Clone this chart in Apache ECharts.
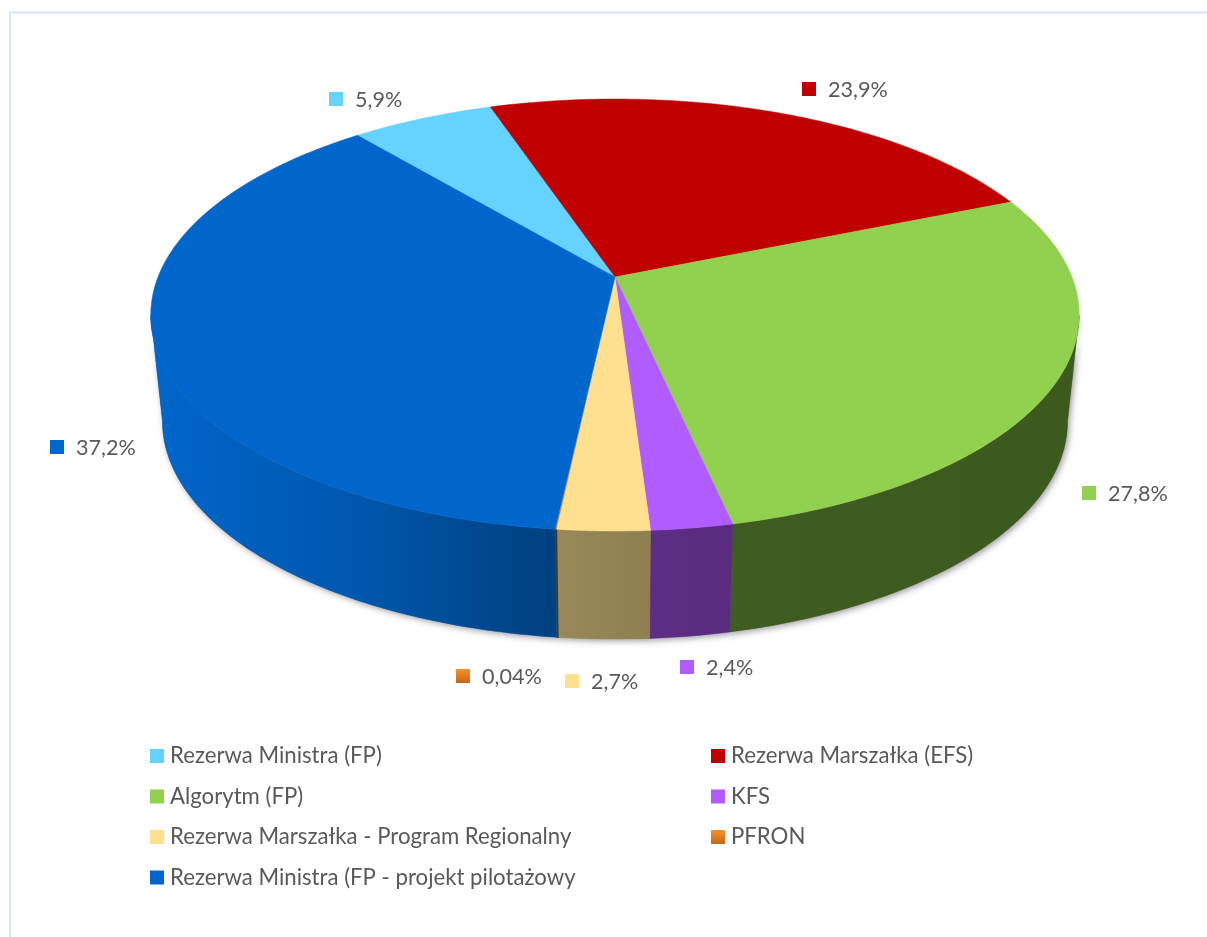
<!DOCTYPE html>
<html><head><meta charset="utf-8">
<style>html,body{margin:0;padding:0;background:#fff}#c{width:1207px;height:937px}</style>
<script src="https://cdn.jsdelivr.net/npm/echarts@6/dist/echarts.min.js"></script>
</head><body><div id="c"></div>
<script>
const categories = ['Rezerwa Ministra (FP)','Rezerwa Marszałka (EFS)','Algorytm (FP)','KFS','Rezerwa Marszałka - Program Regionalny','PFRON','Rezerwa Ministra (FP - projekt pilotażowy'];
const values = [5.9, 23.9, 27.8, 2.4, 2.7, 0.04, 37.2];
const valueLabels = ['5,9%','23,9%','27,8%','2,4%','2,7%','0,04%','37,2%'];

const topColors = ['#66d3ff','#c00000','#92d050','#b05cff','#ffe08f','#f28a25','#0066cc'];
const wallStops = [
  ['#3d7f99','#3d7f99'], ['#730000','#730000'], ['#3f5d20','#3d5a1e'],
  ['#5c2d84','#5a2c80'], ['#998858','#8f7e50'], ['#3d3a28','#3d3a28'],
  ['#0066cb','#0057ae','#00407e']
];
const legendLeft = [0,2,4,6], legendRight = [1,3,5];
// label anchors: marker left/top in page pixels, text follows
const labelAnchors = [[329,92],[802,82],[1082,486],[680,660],[565,674],[456,669],[50,440]];

const TOP = {cx:615, cy:277, a:457, b:209.3, p:0.176};
const BOTTOM = {cx:615, cy:383, a:445.5, b:211, p:0.176};
const START_DEG = -39.8;
const WALL_FROM = Math.acos(-TOP.p)*180/Math.PI, WALL_TO = 360-WALL_FROM;
const total = values.reduce((s,v)=>s+v,0);
function startOf(i){ let s=0; for(let k=0;k<i;k++) s+=values[k]; return START_DEG+s/total*360; }
function proj(g,deg){
  const t=deg*Math.PI/180, u=Math.sin(t), v=-Math.cos(t), d=1-g.p*v;
  return [g.cx+g.a*u/d, g.cy+g.b*v/d];
}
function arc(g,d0,d1){
  const n=Math.max(1,Math.ceil(d1-d0)), out=[];
  for(let i=0;i<=n;i++) out.push(proj(g,d0+(d1-d0)*i/n));
  return out;
}
const orangeGrad={type:'linear',x:0,y:0,x2:0,y2:1,colorStops:[{offset:0,color:'#ff9029'},{offset:1,color:'#c4661a'}]};
function render(i){
  return function(params,api){
    const v=api.value(0), d0=startOf(i), d1=d0+v/total*360;
    const w0=Math.max(d0,WALL_FROM), w1=Math.min(d1,WALL_TO);
    const children=[];
    if(w1>w0){
      const wall=arc(TOP,w0,w1).concat(arc(BOTTOM,w0,w1).reverse());
      const xs=wall.map(p=>p[0]);
      const stops=wallStops[i].map((c,k,a)=>({offset:k/(a.length-1),color:c}));
      const fill={type:'linear',x:Math.min(...xs),y:0,x2:Math.max(...xs),y2:0,global:true,colorStops:stops};
      children.push(
        {type:'polygon',z2:0,shape:{points:wall},style:{fill:'#777',shadowColor:'rgba(60,60,70,0.5)',shadowBlur:6,shadowOffsetX:2,shadowOffsetY:2}},
        {type:'polygon',z2:1,shape:{points:wall},style:{fill:fill,stroke:wallStops[i][0],lineWidth:i===5?1.2:0.4}}
      );
    }
    const [mx,my]=labelAnchors[i];
    const mfill=i===5?orangeGrad:topColors[i];
    children.push(
      {type:'polygon',z2:5,shape:{points:arc(TOP,d0,d1).concat([[TOP.cx,TOP.cy]])},style:i===5?{fill:topColors[i]}:{fill:topColors[i],stroke:topColors[i],lineWidth:0.5}},
      {type:'rect',z2:10,shape:{x:mx,y:my,width:14,height:14},style:{fill:mfill}},
      {type:'text',z2:10,x:mx+26,y:my+8,style:{text:valueLabels[i],fill:'#595959',font:'400 21.6px Lato',textAlign:'left',textVerticalAlign:'middle'}}
    );
    return {type:'group',silent:true,children:children};
  };
}
const legendText={color:'#595959',fontSize:22.2,fontFamily:'Lato',padding:[0,0,0,1]};
const legendData=idx=>idx.map(i=>({name:categories[i],icon:'rect',itemStyle:{color:i===5?orangeGrad:topColors[i]}}));
const chart=echarts.init(document.getElementById('c'),null,{renderer:'canvas'});
chart.setOption({
  animation:false,
  backgroundColor:'#fff',
  tooltip:{show:false},
  graphic:[{type:'polyline',silent:true,shape:{points:[[10,937],[10,12.5],[1207,12.5]]},style:{fill:null,stroke:'#d3e4fb',lineWidth:2}}],
  legend:[
    {orient:'vertical',left:150,top:745,padding:0,itemWidth:14,itemHeight:14,itemGap:18.5,selectedMode:false,textStyle:legendText,data:legendData(legendLeft)},
    {orient:'vertical',left:711,top:745,padding:0,itemWidth:14,itemHeight:14,itemGap:18.5,selectedMode:false,textStyle:legendText,data:legendData(legendRight)}
  ],
  series:categories.map((name,i)=>({
    type:'custom',name:name,coordinateSystem:'none',silent:true,
    itemStyle:{color:topColors[i]},
    renderItem:render(i),data:[[values[i]]]
  }))
});
</script></body></html>
